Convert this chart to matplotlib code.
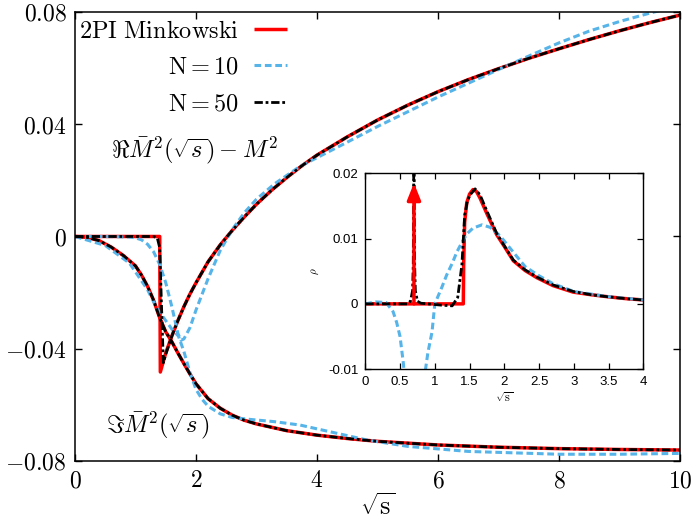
import matplotlib
matplotlib.use("Agg")
import matplotlib.pyplot as plt

plt.rcParams["mathtext.fontset"] = "cm"
plt.rcParams["font.family"] = ["DejaVu Serif"]

# ── Main panel: 2PI Minkowski reference ────────────────────────────────────
x_re_2pi = [0, 0.5, 1.0, 1.40, 1.41, 1.5, 1.6, 1.7, 1.8, 1.9, 2.0, 2.2, 2.4, 2.6, 2.8,
            3.0, 3.25, 3.5, 3.75, 4.0, 4.5, 5.0, 5.5, 6.0, 6.5, 7.0, 7.5, 8.0, 8.5,
            9.0, 9.5, 10.0]
y_re_2pi = [0, 0, 0, 0, -0.0483, -0.0415, -0.0355, -0.0300, -0.0250, -0.0205, -0.0165,
            -0.0090, -0.0030, 0.0022, 0.0070, 0.0115, 0.0165, 0.0210, 0.0252, 0.0290,
            0.0355, 0.0415, 0.0468, 0.0516, 0.0559, 0.0598, 0.0635, 0.0669, 0.0702,
            0.0733, 0.0762, 0.0789]

x_im_2pi = [0, 0.2, 0.4, 0.6, 0.8, 1.0, 1.1, 1.2, 1.3, 1.4, 1.5, 1.6, 1.7, 1.8, 1.9,
            2.0, 2.2, 2.4, 2.6, 2.8, 3.0, 3.5, 4.0, 4.5, 5.0, 6.0, 7.0, 8.0, 9.0, 10.0]
y_im_2pi = [0, -0.0003, -0.0015, -0.0038, -0.0068, -0.0105, -0.0138, -0.0178, -0.0228,
            -0.0290, -0.0340, -0.0375, -0.0415, -0.0453, -0.0490, -0.0525, -0.0578,
            -0.0612, -0.0637, -0.0655, -0.0668, -0.0692, -0.0708, -0.0720, -0.0730,
            -0.0743, -0.0751, -0.0756, -0.0759, -0.0761]

# ── N = 10 ──────────────────────────────────────────────────────────────────
x_re_n10 = [0, 0.5, 0.9, 1.0, 1.1, 1.2, 1.3, 1.4, 1.5, 1.6, 1.7, 1.75, 1.8, 1.9, 2.0,
            2.2, 2.4, 2.6, 2.8, 3.0, 3.3, 3.72, 4.4, 5.0, 6.0, 7.0, 7.5, 8.0, 8.5,
            9.0, 9.5, 10.0]
y_re_n10 = [0, 0, -0.0002, -0.0005, -0.0012, -0.0028, -0.0055, -0.0100, -0.0165,
            -0.0250, -0.0345, -0.0370, -0.0365, -0.0325, -0.0262, -0.0150, -0.0050,
            0.0025, 0.0085, 0.0133, 0.0188, 0.0250, 0.0325, 0.0392, 0.0497, 0.0595,
            0.0643, 0.0690, 0.0732, 0.0766, 0.0796, 0.0823]

x_im_n10 = [0, 0.5, 0.9, 1.2, 1.35, 1.5, 1.6, 1.71, 1.8, 1.9, 2.0, 2.1, 2.2, 2.4, 2.6,
            2.9, 3.3, 3.72, 4.3, 4.82, 5.5, 6.5, 8.0, 9.0, 10.0]
y_im_n10 = [0, -0.0032, -0.0095, -0.0190, -0.0255, -0.0300, -0.0330, -0.0355, -0.0410,
            -0.0485, -0.0545, -0.0580, -0.0605, -0.0632, -0.0645, -0.0652, -0.0660,
            -0.0672, -0.0700, -0.0725, -0.0748, -0.0766, -0.0776, -0.0776, -0.0773]

# ── N = 50 ──────────────────────────────────────────────────────────────────
x_re_n50 = [0, 0.5, 1.0, 1.30, 1.36, 1.40, 1.43, 1.46, 1.5, 1.6, 1.7, 1.8, 1.9, 2.0,
            2.2, 2.4, 2.6, 2.8, 3.0, 3.25, 3.5, 3.75, 4.0, 4.5, 5.0, 5.5, 6.0, 6.5,
            7.0, 7.5, 8.0, 8.5, 9.0, 9.5, 10.0]
y_re_n50 = [0, 0, 0, 0, -0.0005, -0.0040, -0.0250, -0.0450, -0.0420, -0.0355, -0.0300,
            -0.0250, -0.0205, -0.0165, -0.0090, -0.0030, 0.0022, 0.0070, 0.0115,
            0.0165, 0.0210, 0.0252, 0.0290, 0.0355, 0.0415, 0.0468, 0.0516, 0.0559,
            0.0598, 0.0635, 0.0669, 0.0702, 0.0733, 0.0762, 0.0789]

x_im_n50 = x_im_2pi
y_im_n50 = y_im_2pi

# ── Inset: spectral function rho ────────────────────────────────────────────
x_rho_2pi = [0, 1.41, 1.415, 1.43, 1.46, 1.50, 1.55, 1.60, 1.65, 1.75, 1.89, 2.0,
             2.13, 2.3, 2.47, 2.7, 2.99, 3.25, 3.48, 3.75, 4.0]
y_rho_2pi = [0, 0, 0.0060, 0.0125, 0.0155, 0.0168, 0.0175, 0.0172, 0.0162, 0.0138,
             0.0106, 0.0088, 0.0066, 0.0051, 0.0040, 0.0028, 0.0018, 0.0014, 0.0011,
             0.0008, 0.0006]
delta_pos = 0.7
delta_height = 0.0185

x_rho_n10 = [0, 0.15, 0.3, 0.4, 0.45, 0.5, 0.55, 0.56, 0.58, 0.84, 0.86, 0.9, 0.96,
             1.0, 1.1, 1.17, 1.25, 1.32, 1.4, 1.46, 1.55, 1.68, 1.8, 1.94, 2.1, 2.3,
             2.5, 2.7, 3.0, 3.5, 4.0]
y_rho_n10 = [0, 0.0003, 0.0002, -0.0012, -0.0028, -0.0050, -0.0093, -0.0110, -0.0200,
             -0.0200, -0.0105, -0.0075, -0.0043, 0.0, 0.0025, 0.0044, 0.0062, 0.0080,
             0.0096, 0.0107, 0.0116, 0.0121, 0.0117, 0.0104, 0.0083, 0.0057, 0.0043,
             0.0031, 0.0019, 0.0011, 0.0006]

x_rho_n50 = [0, 0.6, 0.65, 0.68, 0.69, 0.695, 0.70, 0.705, 0.71, 0.72, 0.75, 0.8, 0.9,
             1.1, 1.25, 1.33, 1.39, 1.43, 1.47, 1.51, 1.58, 1.65, 1.75, 1.89, 2.0,
             2.13, 2.3, 2.47, 2.7, 2.99, 3.25, 3.48, 3.75, 4.0]
y_rho_n50 = [0, 0, 0.0004, 0.0020, 0.0060, 0.0150, 0.0300, 0.0150, 0.0060, 0.0020,
             0.0004, 0.0001, 0, -0.0002, -0.0003, 0.0010, 0.0060, 0.0136, 0.0158,
             0.0167, 0.0176, 0.0167, 0.0142, 0.0108, 0.0089, 0.0067, 0.0052, 0.0041,
             0.0029, 0.0019, 0.0014, 0.0011, 0.0008, 0.0006]

main_xticks = [0, 2, 4, 6, 8, 10]
main_yticks = [-0.08, -0.04, 0, 0.04, 0.08]
main_yticklabels = [r"$-0.08$", r"$-0.04$", r"$0$", r"$0.04$", r"$0.08$"]
inset_xticks = [0, 0.5, 1, 1.5, 2, 2.5, 3, 3.5, 4]
inset_xticklabels = ["0", "0.5", "1", "1.5", "2", "2.5", "3", "3.5", "4"]
inset_yticks = [-0.01, 0, 0.01, 0.02]
inset_yticklabels = ["-0.01", "0", "0.01", "0.02"]

RED = "#ff0000"
BLUE = "#56b4e9"
BLACK = "black"

fig = plt.figure(figsize=(6.92, 5.19), dpi=100)
ax = fig.add_axes([0.1084, 0.1118, 0.8743, 0.8651])

red_style = dict(color=RED, lw=2.5, solid_capstyle="butt")
blue_style = dict(color=BLUE, lw=2.2, dashes=(2.2, 1.2))
black_style = dict(color=BLACK, lw=2.0, dashes=(3, 1, 1, 1))

ax.plot(x_re_2pi, y_re_2pi, label=r"$\mathrm{2PI\ Minkowski}$", **red_style)
ax.plot(x_im_2pi, y_im_2pi, **red_style)
ax.plot(x_re_n10, y_re_n10, label=r"$\mathrm{N} = 10$", **blue_style)
ax.plot(x_im_n10, y_im_n10, **blue_style)
ax.plot(x_re_n50, y_re_n50, label=r"$\mathrm{N} = 50$", **black_style)
ax.plot(x_im_n50, y_im_n50, **black_style)

ax.set_xlim(0, 10)
ax.set_ylim(-0.08, 0.08)
ax.set_xticks(main_xticks)
ax.set_xticklabels([f"${t}$" for t in main_xticks])
ax.set_yticks(main_yticks)
ax.set_yticklabels(main_yticklabels)
ax.tick_params(direction="in", length=5, width=1.0, top=True, right=True,
               labelsize=17, pad=6)
for sp in ax.spines.values():
    sp.set_linewidth(1.1)
ax.set_xlabel(r"$\sqrt{\mathrm{s}}$", fontsize=19, labelpad=1)

ax.text(1.98, 0.0308, r"$\Re\bar{M}^2(\sqrt{s}) - M^2$", fontsize=17.5,
        ha="center", va="center")
ax.text(1.37, -0.0672, r"$\Im\bar{M}^2(\sqrt{s})$", fontsize=17.5,
        ha="center", va="center")

ax.legend(loc="upper right", bbox_to_anchor=(0.350, 0.983), frameon=False,
          markerfirst=False, fontsize=17.5, handlelength=1.35, handletextpad=0.6,
          labelspacing=0.55, borderpad=0, borderaxespad=0)

# ── Inset ───────────────────────────────────────────────────────────────────
ins = fig.add_axes([0.5279, 0.2886, 0.4017, 0.3777])
ins.plot(x_rho_2pi, y_rho_2pi, **red_style)
ins.annotate("", xy=(delta_pos, delta_height), xytext=(delta_pos, 0),
             arrowprops=dict(arrowstyle="-|>,head_length=0.5,head_width=0.2",
                             color=RED, lw=2.5, mutation_scale=20,
                             shrinkA=0, shrinkB=0))
ins.plot(x_rho_n10, y_rho_n10, **blue_style)
ins.plot(x_rho_n50, y_rho_n50, **black_style)
ins.set_xlim(0, 4)
ins.set_ylim(-0.01, 0.02)
ins.set_xticks(inset_xticks)
ins.set_xticklabels(inset_xticklabels, family="Liberation Sans")
ins.set_yticks(inset_yticks)
ins.set_yticklabels(inset_yticklabels, family="Liberation Sans")
ins.tick_params(direction="in", length=4, width=0.9, top=True, right=True,
                labelsize=9.5, pad=5)
for sp in ins.spines.values():
    sp.set_linewidth(1.0)
ins.set_xlabel(r"$\sqrt{\mathrm{s}}$", fontsize=9, labelpad=2)
ins.set_ylabel(r"$\rho$", fontsize=8, labelpad=5)

fig.savefig("out.png", dpi=100)
